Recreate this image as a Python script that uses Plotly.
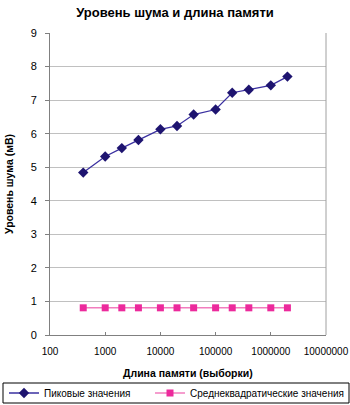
import plotly.graph_objects as go

memory_length = [400, 1000, 2000, 4000, 10000, 20000, 40000, 100000, 200000, 400000, 1000000, 2000000]
peak_values = [4.84, 5.32, 5.57, 5.81, 6.13, 6.23, 6.57, 6.72, 7.22, 7.31, 7.44, 7.70]
rms_values = [0.81] * 12
x_tick_vals = [100, 1000, 10000, 100000, 1000000, 10000000]
x_tick_text = ["100", "1000", "10000", "100000", "1000000", "10000000"]
y_tick_vals = [0, 1, 2, 3, 4, 5, 6, 7, 8, 9]

FONT = "Liberation Sans, Arial"
W, H = 350, 405
ML, MR, MT, MB = 50, 24, 33, 70
pw = W - ML - MR
ph = H - MT - MB

fig = go.Figure()
fig.add_trace(go.Scatter(
    x=memory_length, y=peak_values, mode="lines+markers",
    name="Пиковые значения", legend="legend",
    line=dict(color="#3A30A0", width=1.3),
    marker=dict(symbol="diamond", size=8, color="#1E1470"),
))
fig.add_trace(go.Scatter(
    x=memory_length, y=rms_values, mode="lines+markers",
    name="Среднеквадратические значения", legend="legend2",
    line=dict(color="#F27DBE", width=1.5),
    marker=dict(symbol="square", size=7, color="#EC2A9C"),
))

legend_common = dict(orientation="h", xref="container", yref="container",
                     xanchor="left", yanchor="middle", y=1 - 393 / H,
                     borderwidth=0, bgcolor="rgba(0,0,0,0)",
                     font=dict(family=FONT, size=10, color="black"))

fig.update_layout(
    width=W, height=H,
    margin=dict(l=ML, r=MR, t=MT, b=MB, autoexpand=False),
    paper_bgcolor="white", plot_bgcolor="white",
    font=dict(family=FONT, size=10, color="black"),
    title=dict(text="<b>Уровень шума и длина памяти</b>",
               font=dict(family=FONT, size=13, color="black"),
               x=0.5, xanchor="center", xref="container",
               y=1 - 12 / H, yanchor="middle", yref="container"),
    showlegend=True,
    legend=dict(x=4 / W, **legend_common),
    legend2=dict(x=150 / W, **legend_common),
    xaxis=dict(type="log", range=[2, 7], automargin=False,
               tickvals=x_tick_vals, ticktext=x_tick_text,
               ticks="inside", ticklen=3, tickcolor="#808080",
               showline=True, linecolor="#808080", linewidth=1,
               mirror=False, showgrid=False, zeroline=False,
               ticklabelstandoff=7,
               tickfont=dict(family=FONT, size=10)),
    yaxis=dict(range=[0, 9], tickvals=y_tick_vals, automargin=False,
               ticks="outside", ticklen=4, tickcolor="#808080",
               showline=True, linecolor="#808080", linewidth=1,
               showgrid=True, gridcolor="#C0C0C0", gridwidth=1,
               zeroline=False, ticklabelstandoff=6,
               tickfont=dict(family=FONT, size=11),
               title=dict(text="<b>Уровень шума (мВ)</b>",
                          font=dict(family=FONT, size=10.5), standoff=14)),
)
# x-axis title
fig.add_annotation(text="<b>Длина памяти (выборки)</b>", xref="paper", yref="paper",
                   x=0.5, y=(H - MB - 373) / ph, xanchor="center", yanchor="middle",
                   showarrow=False, font=dict(family=FONT, size=10.5, color="black"))
# right border of plot area
fig.add_shape(type="line", xref="paper", yref="paper", x0=1, x1=1, y0=0, y1=1,
              line=dict(color="#A0A0A0", width=1))
# legend frame
fig.add_shape(type="rect", xref="paper", yref="paper",
              x0=(3 - ML) / pw, x1=(349 - ML) / pw,
              y0=(H - MB - 403) / ph, y1=(H - MB - 383) / ph,
              line=dict(color="black", width=1), fillcolor="rgba(0,0,0,0)")

fig.write_html("out.html")
